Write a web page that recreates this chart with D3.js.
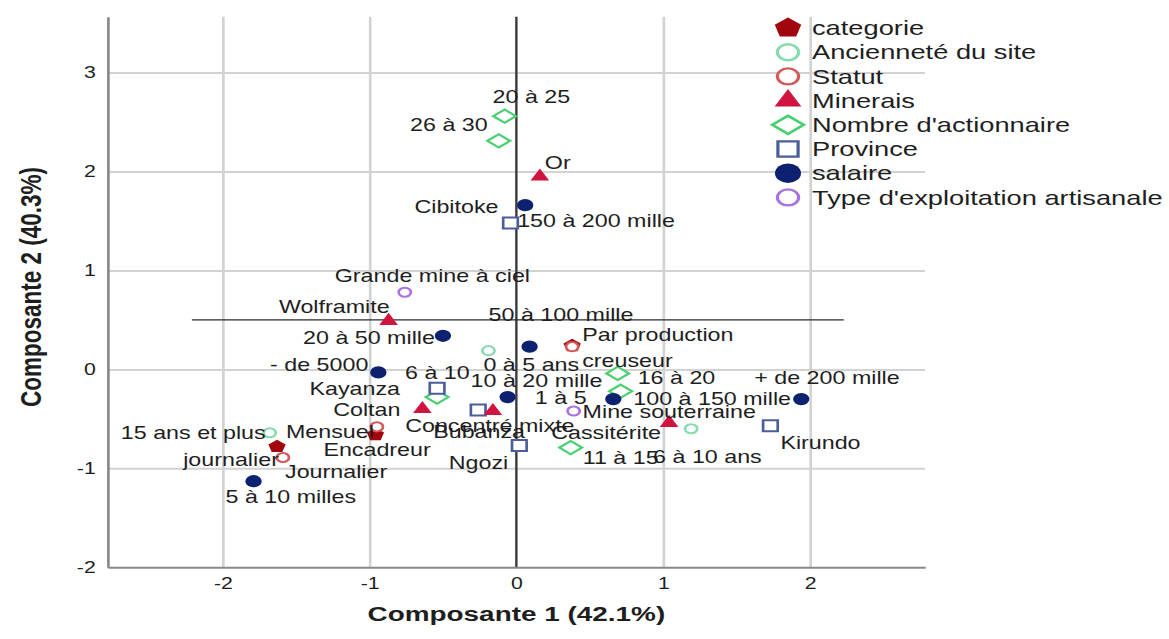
<!DOCTYPE html>
<html>
<head>
<meta charset="utf-8">
<script src="https://cdn.jsdelivr.net/npm/d3@7"></script>
<style>
  html, body { margin: 0; padding: 0; background: #fff; }
  svg { display: block; }
  text { font-family: "Liberation Sans", Arial, sans-serif; fill: #1e1e1e; }
</style>
</head>
<body>
<svg id="chart"></svg>
<script>
// category points: [label, dimension 1, dimension 2]
const categorie = [
  ['Encadreur', -0.96, -0.66],
  ['Journalier', -1.63, -0.78],
  ['creuseur', 0.38, 0.24]
]
const anciennete = [
  ['0 à 5 ans', -0.19, 0.19],
  ['6 à 10 ans', 1.19, -0.60],
  ['15 ans et plus', -1.68, -0.64]
]
const statut = [
  ['Mensuel', -0.95, -0.58],
  ['journalier', -1.59, -0.89],
  ['Par production', 0.38, 0.23]
]
const minerais = [
  ['Or', 0.16, 1.95],
  ['Wolframite', -0.87, 0.49],
  ['Coltan', -0.64, -0.40],
  ['', -0.16, -0.42],   // no label shown in the source
  ['Cassitérite', 1.04, -0.54]
]
const actionnaires = [
  ['20 à 25', -0.08, 2.56],
  ['26 à 30', -0.12, 2.31],
  ['16 à 20', 0.69, -0.04],
  ['1 à 5', 0.71, -0.22],
  ['6 à 10', -0.54, -0.28],
  ['11 à 15', 0.37, -0.79]
]
const province = [
  ['Cibitoke', -0.04, 1.48],
  ['Kayanza', -0.54, -0.19],
  ['Bubanza', -0.26, -0.41],
  ['Ngozi', 0.02, -0.77],
  ['Kirundo', 1.73, -0.57]
]
const salaire = [
  ['150 à 200 mille', 0.06, 1.66],
  ['20 à 50 mille', -0.50, 0.34],
  ['50 à 100 mille', 0.09, 0.23],
  ['- de 5000', -0.94, -0.03],
  ['10 à 20 mille', -0.06, -0.28],
  ['100 à 150 mille', 0.66, -0.30],
  ['+ de 200 mille', 1.94, -0.30],
  ['5 à 10 milles', -1.79, -1.13]
]
const typeExploitation = [
  ['Grande mine à ciel', -0.76, 0.78],
  ['Mine souterraine', 0.39, -0.42],
  ['Concentré mixte', -0.26, -0.41]
]

const xTicks = [-2, -1, 0, 1, 2]
const yTicks = [-2, -1, 0, 1, 2, 3]
const xTitle = 'Composante 1 (42.1%)'
const yTitle = 'Composante 2 (40.3%)'

// the source picture is stretched sideways, so draw in a narrower box and let the svg stretch it
const sx = 1.33
const width = 1169
const height = 639
const W = width / sx

const margin = {top: 16.7, left: 81, right: W - 695.5, bottom: height - 567.3}

const pentagon = {
  draw(ctx, size) {
    const r = Math.sqrt(size / 2.378)
    for (let i = 0; i < 5; i++) {
      const a = -Math.PI / 2 + i * 2 * Math.PI / 5
      if (i === 0) ctx.moveTo(r * Math.cos(a), r * Math.sin(a))
      else ctx.lineTo(r * Math.cos(a), r * Math.sin(a))
    }
    ctx.closePath()
  }
}
const wideDiamond = {
  draw(ctx, size) {
    const h = Math.sqrt(size / 2.6), w = h * 1.3
    ctx.moveTo(0, -h); ctx.lineTo(w, 0); ctx.lineTo(0, h); ctx.lineTo(-w, 0); ctx.closePath()
  }
}

const series = [
  {name: 'categorie', data: categorie, type: pentagon, size: 110, legendSize: 260, color: '#a1050d', filled: true},
  {name: 'Ancienneté du site', data: anciennete, type: d3.symbolCircle, size: 66, legendSize: 200, color: '#86dbad', filled: false},
  {name: 'Statut', data: statut, type: d3.symbolCircle, size: 66, legendSize: 200, color: '#d45a5a', filled: false},
  {name: 'Minerais', data: minerais, type: d3.symbolTriangle, size: 85, legendSize: 175, color: '#d0143f', filled: true},
  {name: "Nombre d'actionnaire", data: actionnaires, type: wideDiamond, size: 113, legendSize: 215, color: '#48d070', filled: false},
  {name: 'Province', data: province, type: d3.symbolSquare, size: 121, legendSize: 230, color: '#4b5d9b', filled: false},
  {name: 'salaire', data: salaire, type: d3.symbolCircle, size: 118, legendSize: 300, color: '#0c2170', filled: true},
  {name: "Type d'exploitation artisanale", data: typeExploitation, type: d3.symbolCircle, size: 66, legendSize: 200, color: '#a970e0', filled: false}
]
// draw order chosen so overlaps look like the source
const drawOrder = [0, 1, 2, 7, 4, 5, 3, 6]

// label nudges in screen pixels: [dx, dy, anchor]
const labelNudge = {
  '20 à 25': [-12, -19, 'start'], '26 à 30': [-11, -16, 'end'], 'Or': [5, -14, 'start'],
  'Cibitoke': [-12, -16, 'end'], '150 à 200 mille': [-8, 16, 'start'],
  'Grande mine à ciel': [-70, -16, 'start'], 'Wolframite': [1, -14, 'end'],
  '20 à 50 mille': [-8, 2, 'end'], '50 à 100 mille': [-41, -32, 'start'],
  'Par production': [10, -12, 'start'], 'creuseur': [10, 15, 'start'], '0 à 5 ans': [-5, 14, 'start'],
  '- de 5000': [-10, -8, 'end'], '6 à 10': [-32, -24, 'start'], '10 à 20 mille': [-37, -16, 'start'],
  '16 à 20': [20, 5, 'start'], '+ de 200 mille': [-47, -21, 'start'], 'Kayanza': [-37, 1, 'end'],
  '1 à 5': [-34, 7, 'end'], '100 à 150 mille': [20, 0, 'start'], 'Coltan': [-22, 1, 'end'],
  'Mine souterraine': [9, 1, 'start'], 'Concentré mixte': [-73, 16, 'start'], 'Mensuel': [-3, 5, 'end'],
  '15 ans et plus': [-4, 0, 'end'], 'Bubanza': [-45, 22, 'start'], 'Cassitérite': [-8, 10, 'end'],
  'Kirundo': [10, 17, 'start'], 'Encadreur': [-52, 15, 'start'], 'journalier': [-4, 2, 'end'],
  '11 à 15': [12, 10, 'start'], '6 à 10 ans': [-38, 28, 'start'], 'Ngozi': [-11, 17, 'end'],
  'Journalier': [8, 25, 'start'], '5 à 10 milles': [-28, 16, 'start']
}

const x = d3.scaleLinear()
  .domain([-2.783, 2.783])
  .range([margin.left, W - margin.right])

const y = d3.scaleLinear()
  .domain([-2, 3.565])
  .range([height - margin.bottom, margin.top])

const svg = d3.select('#chart')
  .attr('width', width)
  .attr('height', height)
  .attr('viewBox', `0 0 ${W} ${height}`)
  .attr('preserveAspectRatio', 'none')

// grid
svg.append('g')
  .attr('transform', `translate(0, ${height - margin.bottom})`)
  .call(d3.axisBottom(x).tickValues(xTicks.filter(d => d !== 0)).tickSize(-(height - margin.top - margin.bottom)).tickFormat(''))
  .call(g => g.select('.domain').remove())
  .call(g => g.selectAll('line').attr('stroke', '#d2d2d2').attr('stroke-width', 2))

svg.append('g')
  .attr('transform', `translate(${margin.left}, 0)`)
  .call(d3.axisLeft(y).tickValues(yTicks.filter(d => d !== -2)).tickSize(-(W - margin.left - margin.right)).tickFormat(''))
  .call(g => g.select('.domain').remove())
  .call(g => g.selectAll('line').attr('stroke', '#d2d2d2').attr('stroke-width', 2))

// reference lines
svg.append('line')
  .attr('x1', x(0)).attr('x2', x(0))
  .attr('y1', y.range()[1]).attr('y2', y.range()[0])
  .attr('stroke', '#3a3a3a').attr('stroke-width', 1.8)

svg.append('line')
  .attr('x1', x(-2.21)).attr('x2', x(2.23))
  .attr('y1', y(0.5)).attr('y2', y(0.5))
  .attr('stroke', '#2a2a2a').attr('stroke-width', 1.3)

// axes
const xAxis = g => g
  .attr('transform', `translate(0, ${height - margin.bottom})`)
  .call(d3.axisBottom(x).tickValues(xTicks).tickSize(0).tickPadding(10).tickFormat(d => String(d)))
  .call(g => g.select('.domain').attr('stroke', '#888').attr('stroke-width', 2))
  .call(g => g.selectAll('text').attr('font-size', 16).attr('font-family', null).attr('fill', '#2a2a2a'))

const yAxis = g => g
  .attr('transform', `translate(${margin.left}, 0)`)
  .call(d3.axisLeft(y).tickValues(yTicks).tickSize(0).tickPadding(9).tickFormat(d => String(d)))
  .call(g => g.select('.domain').attr('stroke', '#888').attr('stroke-width', 2))
  .call(g => g.selectAll('text').attr('font-size', 16).attr('font-family', null).attr('fill', '#2a2a2a'))

svg.append('g').call(xAxis)
svg.append('g').call(yAxis)

svg.append('text')
  .attr('x', x(0)).attr('y', 614)
  .attr('dy', '0.35em')
  .attr('text-anchor', 'middle')
  .attr('font-size', 21).attr('font-weight', 'bold')
  .text(xTitle)

svg.append('text')
  .attr('transform', `translate(${31 / sx}, 287) rotate(-90)`)
  .attr('dy', '0.35em')
  .attr('text-anchor', 'middle')
  .attr('font-size', 22.5).attr('font-weight', 'bold')
  .text(yTitle)

// points
const pts = svg.append('g')
drawOrder.forEach(i => {
  const s = series[i]
  pts.selectAll(null)
    .data(s.data)
    .join('path')
    .attr('transform', d => `translate(${x(d[1])}, ${y(d[2])})`)
    .attr('d', d3.symbol().type(s.type).size(s.size))
    .attr('fill', s.filled ? s.color : '#fff')
    .attr('stroke', s.color)
    .attr('stroke-width', s.filled ? 0 : 2)
})

// labels
const labels = svg.append('g').attr('font-size', 17.5)
series.forEach(s => {
  labels.selectAll(null)
    .data(s.data.filter(d => d[0] !== ''))
    .join('text')
    .attr('x', d => x(d[1]) + (labelNudge[d[0]] || [8])[0] / sx)
    .attr('y', d => y(d[2]) + (labelNudge[d[0]] || [8, 0])[1])
    .attr('dy', '0.35em')
    .attr('text-anchor', d => (labelNudge[d[0]] || [8, 0, 'start'])[2])
    .text(d => d[0])
})

// legend
const legend = svg.append('g')
  .selectAll('g')
  .data(series)
  .join('g')
  .attr('transform', (d, i) => `translate(${788 / sx}, ${28 + i * 24.2})`)

legend.append('path')
  .attr('d', d => d3.symbol().type(d.type).size(d.legendSize)())
  .attr('fill', d => d.filled ? d.color : '#fff')
  .attr('stroke', d => d.color)
  .attr('stroke-width', d => d.filled ? 0 : 2.4)

legend.append('text')
  .attr('x', 24 / sx)
  .attr('dy', '0.35em')
  .attr('font-size', 20.5)
  .text(d => d.name)
</script>
</body>
</html>
